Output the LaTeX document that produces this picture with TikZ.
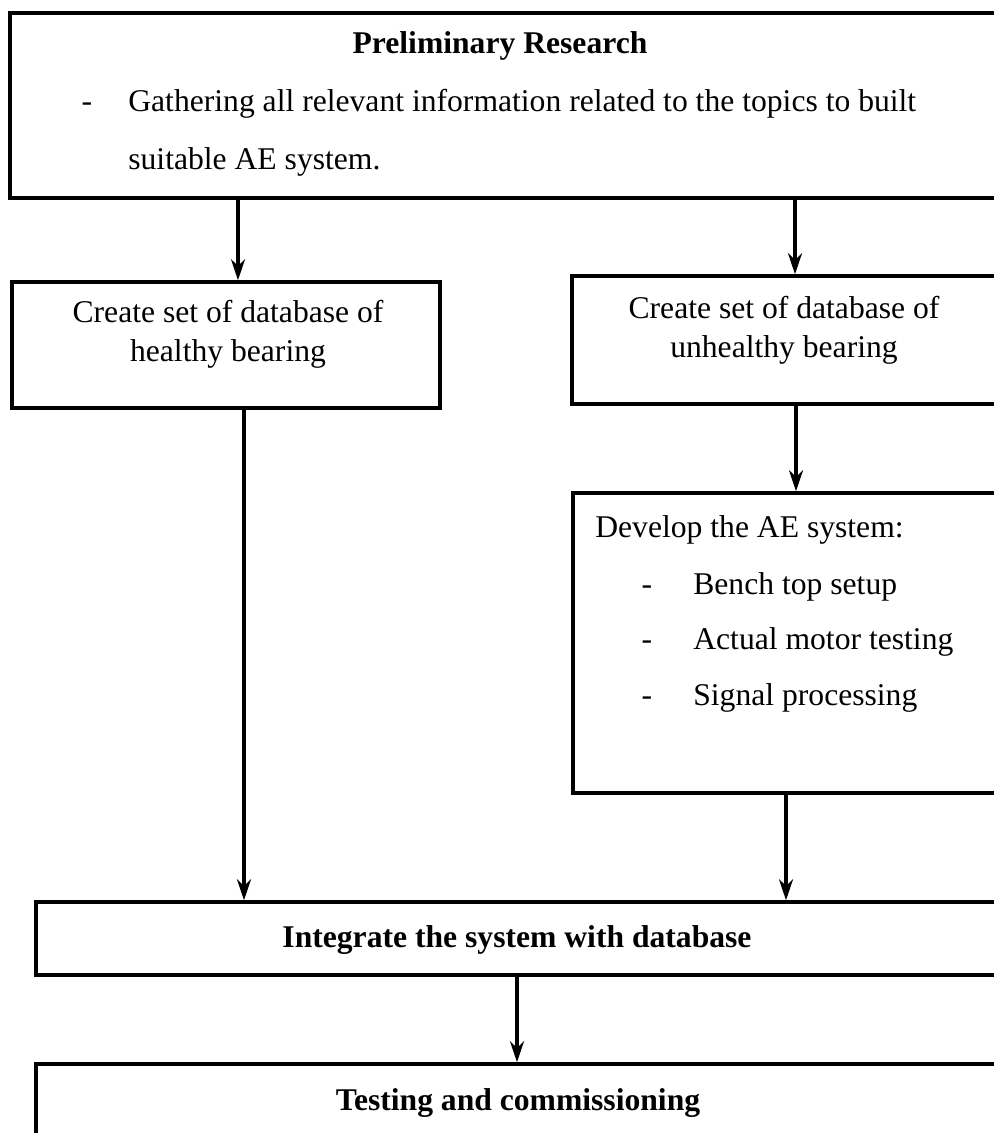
\documentclass[tikz,border=0pt]{standalone}
\usepackage{fontspec}
\setmainfont{Liberation Serif}
\usetikzlibrary{arrows.meta}

\begin{document}
\begin{tikzpicture}[x=0.02cm,y=-0.02cm,
  box/.style={draw, rectangle, line width=2pt, inner sep=0pt},
  txt/.style={inner sep=0pt, text height=12pt, text depth=4pt, font=\fontsize{18}{22}\selectfont},
  arr/.style={line width=2.3pt, -{Stealth[length=12pt,width=8pt]}}]
\useasboundingbox (0,0) rectangle (994,1133);
\clip (0,0) rectangle (994,1133);

% boxes (right side runs off the page)
\node[box, minimum width=1010*0.02cm, minimum height=185*0.02cm] (prelim) at (515,105.5) {};
\node[box, minimum width=428*0.02cm, minimum height=126*0.02cm] (healthy) at (226,345) {};
\node[box, minimum width=448*0.02cm, minimum height=128*0.02cm] (unhealthy) at (796,340) {};
\node[box, minimum width=447*0.02cm, minimum height=300*0.02cm] (develop) at (796.5,643) {};
\node[box, minimum width=984*0.02cm, minimum height=73*0.02cm] (integ) at (528,938.5) {};
\node[box, minimum width=984*0.02cm, minimum height=136*0.02cm] (testing) at (528,1132) {};

% texts
\node[txt, font=\fontsize{18}{22}\selectfont\bfseries] (prelimhead) at (500,46) {Preliminary Research};
\node[txt] (prelimdash) at (87,104) {-};
\node[txt, anchor=west] (prelimline1) at (128,104) {Gathering all relevant information related to the topics to built};
\node[txt, anchor=west] (prelimline2) at (128,162) {suitable AE system.};

\node[inner sep=0pt, align=center, font=\fontsize{18}{22}\selectfont] (healthytxt) at (228,334) {Create set of database of\\healthy bearing};
\node[inner sep=0pt, align=center, font=\fontsize{18}{22}\selectfont] (unhealthytxt) at (784,330) {Create set of database of\\unhealthy bearing};

\node[txt, anchor=west] (devhead) at (595,530) {Develop the AE system:};
\node[txt] (devdash1) at (647,587) {-};
\node[txt, anchor=west] (devitem1) at (693,587) {Bench top setup};
\node[txt] (devdash2) at (647,642) {-};
\node[txt, anchor=west] (devitem2) at (693,642) {Actual motor testing};
\node[txt] (devdash3) at (647,698) {-};
\node[txt, anchor=west] (devitem3) at (693,698) {Signal processing};

\node[txt, font=\fontsize{18}{22}\selectfont\bfseries] (integtxt) at (517,940) {Integrate the system with database};
\node[txt, font=\fontsize{18}{22}\selectfont\bfseries] (testingtxt) at (518,1103) {Testing and commissioning};

% connectors
\coordinate (lefta) at (238,0);
\coordinate (leftb) at (244,0);
\coordinate (righta) at (795,0);
\coordinate (rightb) at (796,0);
\coordinate (rightc) at (786,0);
\draw[arr] (prelim.south -| lefta) -- (healthy.north -| lefta);
\draw[arr] (prelim.south -| righta) -- (unhealthy.north -| righta);
\draw[arr] (unhealthy.south -| rightb) -- (develop.north -| rightb);
\draw[arr] (healthy.south -| leftb) -- (integ.north -| leftb);
\draw[arr] (develop.south -| rightc) -- (integ.north -| rightc);
\draw[arr] (integ.south -| integtxt) -- (testing.north -| integtxt);
\end{tikzpicture}
\end{document}
